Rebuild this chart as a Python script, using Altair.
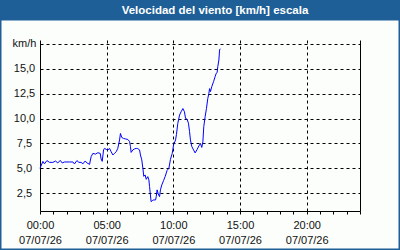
import altair as alt
import pandas as pd

title_text = "Velocidad del viento [km/h] escala"
date_label = "07/07/26"

minutes = [0, 13, 20, 31, 43, 58, 70, 80, 91, 100, 110, 133, 148, 155, 166, 175, 185, 193, 203, 212,
           223, 230, 238, 250, 260, 271, 275, 280, 286, 290, 298, 305, 313, 320, 328, 335, 343, 350,
           358, 362, 368, 376, 385, 395, 403, 407, 410, 418, 425, 433, 440, 448, 452, 458, 463, 467,
           473, 478, 485, 490, 493, 496, 500, 505, 511, 520, 523, 527, 532, 538, 542, 548, 556, 563,
           572, 580, 587, 595, 601, 610, 614, 620, 628, 635, 643, 650, 655, 662, 668, 673, 677, 683,
           691, 698, 706, 715, 722, 728, 733, 737, 743, 749, 755, 760, 763, 767, 773, 781, 788, 793,
           797, 800, 805, 808, 811]
speed = [5.0, 5.7, 5.45, 5.78, 5.6, 5.6, 5.73, 5.54, 5.8, 5.54, 5.64, 5.64, 5.64, 5.44, 5.78, 5.6, 5.6,
         5.45, 5.73, 5.54, 5.4, 6.17, 6.5, 6.43, 6.57, 6.5, 5.94, 5.7, 6.85, 7.0, 6.9, 6.84, 7.0, 6.67,
         6.34, 6.5, 6.67, 7.0, 7.85, 8.5, 8.1, 8.0, 7.95, 7.9, 7.7, 7.2, 6.6, 6.85, 6.95, 7.0, 6.98,
         6.85, 6.34, 5.85, 5.0, 4.2, 4.34, 3.9, 4.17, 3.84, 3.17, 2.5, 1.66, 1.76, 1.83, 1.83, 2.16,
         2.84, 2.43, 2.16, 2.84, 3.33, 3.77, 4.17, 4.8, 5.0, 5.9, 6.5, 7.35, 7.85, 8.4, 9.5, 10.35,
         10.68, 11.0, 10.68, 10.0, 9.93, 9.53, 8.68, 7.85, 7.2, 6.85, 6.55, 6.85, 7.25, 7.5, 7.1, 7.67,
         9.18, 10.18, 11.0, 12.0, 12.53, 13.0, 12.7, 13.2, 13.7, 14.2, 14.54, 14.6, 15.2, 15.87, 16.87,
         17.0]

x_ticks = list(range(0, 25))
y_ticks = [2.5, 5.0, 7.5, 10.0, 12.5, 15.0, 17.5]

df = pd.DataFrame({"hour": [m / 60 for m in minutes], "speed": speed})
one = pd.DataFrame({"t": [title_text]})

FONT = "Liberation Sans"
BLUE_FRAME = "#1e5f97"

x_enc = alt.X(
    "hour:Q",
    scale=alt.Scale(domain=[0, 24], nice=False, zero=False),
    axis=alt.Axis(
        values=x_ticks, title=None, tickSize=3, tickColor="black", domainColor="black",
        labelExpr=f"datum.value % 5 === 0 && datum.value < 24 ? [format(datum.value, '02d') + ':00', '{date_label}'] : ''",
        labelFont=FONT, labelFontSize=11, labelColor="#111111", labelBaseline="top",
        labelPadding=5, labelLineHeight=15, labelFlush=False, labelOverlap=False,
        grid=True, gridColor="black", gridDash=[3, 3],
        gridOpacity=alt.condition("datum.value % 5 === 0 && datum.value > 0 && datum.value < 24",
                                  alt.value(1), alt.value(0)),
    ),
)
y_scale = alt.Scale(domain=[0.72, 17.88], nice=False, zero=False)

line = alt.Chart(df).mark_line(color="#0000ff", strokeWidth=1, interpolate="linear").encode(
    x=x_enc,
    y=alt.Y("speed:Q", scale=y_scale, axis=alt.Axis(
        values=y_ticks, title=None, tickSize=0, domainColor="black",
        labelExpr="datum.value == 17.5 ? 'km/h' : replace(format(datum.value, '.1f'), '.', ',')",
        labelFont=FONT, labelFontSize=11, labelColor="#111111", labelAlign="center",
        labelPadding=16, labelBaseline="middle",
        grid=True, gridColor="black", gridDash=[3, 3],
    )),
)

right = alt.Chart(df).mark_line(opacity=0).encode(
    x=alt.value(0),
    y=alt.Y("speed:Q", scale=y_scale, axis=alt.Axis(
        orient="right", labels=False, ticks=False, grid=False, title=None, domainColor="black")),
)

bar = alt.Chart(one).mark_rect(color=BLUE_FRAME).encode(
    x=alt.value(-40), x2=alt.value(360), y=alt.value(-40), y2=alt.value(-19.5))

border = alt.Chart(one).mark_rect(fill=None, stroke=BLUE_FRAME, strokeWidth=3).encode(
    x=alt.value(-40), x2=alt.value(360), y=alt.value(-40), y2=alt.value(210))

title = alt.Chart(one).mark_text(color="white", font=FONT, fontSize=11.5, fontWeight="bold",
                                 align="center", baseline="middle").encode(
    text="t:N", x=alt.value(175), y=alt.value(-29.5))

chart = alt.layer(bar, border, line, right, title).resolve_axis(y="independent").properties(
    width=320, height=171,
    autosize=alt.AutoSizeParams(type="none"),
    padding={"left": 40, "top": 40, "right": 40, "bottom": 39},
    background="#fcfefc",
).configure_view(stroke=None)

chart.save("out.html", embed_options={"renderer": "svg", "actions": False})
